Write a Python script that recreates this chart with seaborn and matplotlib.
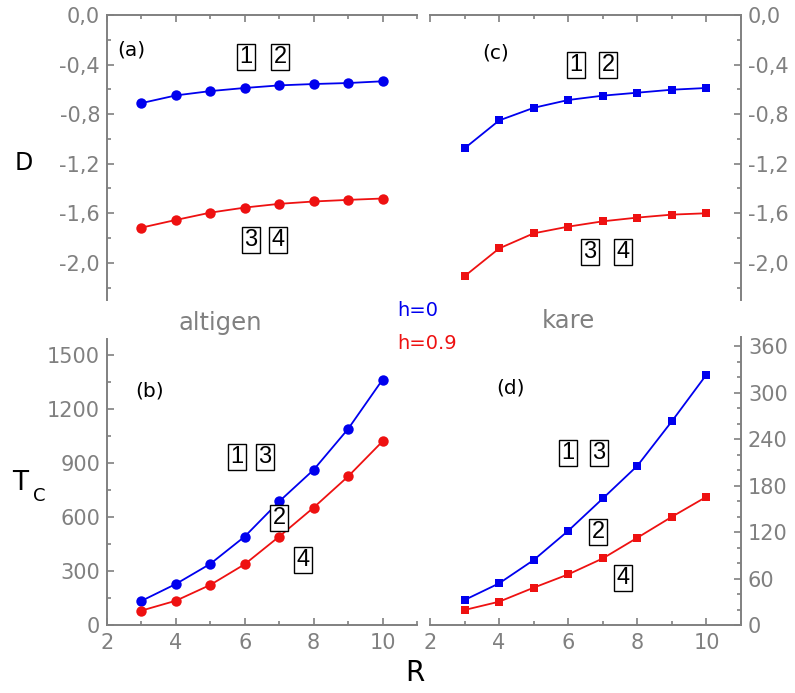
import numpy as np
import pandas as pd
import matplotlib
matplotlib.use("Agg")
import matplotlib.pyplot as plt
from matplotlib.ticker import MultipleLocator, FuncFormatter
import seaborn as sns

# ---- data -------------------------------------------------------------
R = [3, 4, 5, 6, 7, 8, 9, 10]

# D versus R, hexagonal lattice (altigen)
D_hex_h0 = [-0.711, -0.649, -0.614, -0.589, -0.568, -0.557, -0.549, -0.535]
D_hex_h09 = [-1.716, -1.654, -1.595, -1.554, -1.524, -1.505, -1.492, -1.481]

# D versus R, square lattice (kare)
D_sq_h0 = [-1.076, -0.851, -0.749, -0.686, -0.651, -0.627, -0.603, -0.589]
D_sq_h09 = [-2.108, -1.884, -1.762, -1.708, -1.665, -1.635, -1.611, -1.600]

# Tc versus R, hexagonal lattice
Tc_hex_h0 = [134, 228, 340, 492, 687, 863, 1090, 1364]
Tc_hex_h09 = [80, 135, 223, 338, 492, 653, 826, 1021]

# Tc versus R, square lattice
Tc_sq_h0 = [32.3, 53.8, 83.9, 121.7, 163.4, 205.6, 263.2, 323.4]
Tc_sq_h09 = [19.4, 30.1, 48.2, 65.4, 86.0, 112.7, 139.8, 165.6]

field_labels = ["h=0", "h=0.9"]
lattice_labels = ["altigen", "kare"]
panel_tags = ["(a)", "(b)", "(c)", "(d)"]

# ---- style ------------------------------------------------------------
sns.set_style("ticks")
plt.rcParams["font.family"] = ["DejaVu Sans"]

BLUE = "#0000ee"
RED = "#ee1111"
GRAY = "#808080"

W, H = 795, 693
fig = plt.figure(figsize=(W / 100, H / 100), dpi=100)


def frac(x, y):
    """pixel position (from top-left) -> figure fraction"""
    return x / W, 1 - y / H


def make_axes(left, top, right, bottom):
    return fig.add_axes([left / W, 1 - bottom / H, (right - left) / W, (bottom - top) / H])


ax_a = make_axes(107, 15, 417, 300)
ax_b = make_axes(107, 339, 417, 625)
ax_c = make_axes(430, 15, 741, 300)
ax_d = make_axes(430, 337, 741, 625)

comma_fmt = FuncFormatter(lambda v, p: f"{v:.1f}".replace(".", ",").replace("\u2212", "-"))
int_fmt = FuncFormatter(lambda v, p: f"{int(round(v))}")


def draw(ax, y0, y1, marker, ms):
    df = pd.DataFrame({"R": R * 2, "v": y0 + y1,
                       "h": [field_labels[0]] * len(R) + [field_labels[1]] * len(R)})
    sns.lineplot(data=df, x="R", y="v", hue="h", palette=[BLUE, RED], marker=marker,
                 markersize=ms, markeredgewidth=0, linewidth=1.3, legend=False, ax=ax)
    ax.set_xlabel("")
    ax.set_ylabel("")
    ax.set_xlim(2, 11)
    ax.xaxis.set_major_locator(MultipleLocator(2))
    ax.xaxis.set_minor_locator(MultipleLocator(1))
    for s in ax.spines.values():
        s.set_color(GRAY)
        s.set_linewidth(1.4)
    ax.tick_params(which="both", direction="in", color=GRAY, width=1.2,
                   labelcolor=GRAY, labelsize=15)
    ax.tick_params(which="major", length=5)
    ax.tick_params(which="minor", length=3)
    ax.tick_params(axis="y", which="both", pad=5)
    ax.tick_params(axis="x", which="both", pad=6)
    ax.set_facecolor("white")


draw(ax_a, D_hex_h0, D_hex_h09, "o", 7.5)
draw(ax_b, Tc_hex_h0, Tc_hex_h09, "o", 7.5)
draw(ax_c, D_sq_h0, D_sq_h09, "s", 6)
draw(ax_d, Tc_sq_h0, Tc_sq_h09, "s", 6)

# D panels
for ax in (ax_a, ax_c):
    ax.set_ylim(-2.3, 0.0)
    ax.yaxis.set_major_locator(MultipleLocator(0.4))
    ax.yaxis.set_minor_locator(MultipleLocator(0.2))
    ax.yaxis.set_major_formatter(comma_fmt)
    ax.xaxis.tick_top()
    ax.tick_params(axis="x", which="both", labeltop=False, labelbottom=False)
    ax.spines["bottom"].set_visible(False)

ax_a.spines["right"].set_visible(False)
ax_c.spines["left"].set_visible(False)
ax_c.yaxis.tick_right()
ax_c.yaxis.set_label_position("right")

# Tc panels
ax_b.set_ylim(0, 1590)
ax_b.yaxis.set_major_locator(MultipleLocator(300))
ax_b.yaxis.set_minor_locator(MultipleLocator(150))
ax_d.set_ylim(0, 372)
ax_d.yaxis.set_major_locator(MultipleLocator(60))
ax_d.yaxis.set_minor_locator(MultipleLocator(20))
for ax in (ax_b, ax_d):
    ax.yaxis.set_major_formatter(int_fmt)
    ax.xaxis.set_major_formatter(int_fmt)
    ax.spines["top"].set_visible(False)
ax_b.spines["right"].set_visible(False)
ax_d.spines["left"].set_visible(False)
ax_d.yaxis.tick_right()

# ---- axis titles and annotations ---------------------------------------
fig.text(*frac(24, 163), "D", fontsize=17, ha="center", va="center", color="black")
fig.text(*frac(20, 483), "T", fontsize=19, ha="center", va="center", color="black")
fig.text(*frac(39, 496), "C", fontsize=13, ha="center", va="center", color="black")
fig.text(*frac(415, 673), "R", fontsize=20, ha="center", va="center", color="black")

fig.text(*frac(220, 323), lattice_labels[0], fontsize=17.5, ha="center", va="center", color=GRAY)
fig.text(*frac(568, 321), lattice_labels[1], fontsize=17.5, ha="center", va="center", color=GRAY)
fig.text(*frac(397, 311), field_labels[0], fontsize=14, ha="left", va="center", color=BLUE)
fig.text(*frac(397, 343), field_labels[1], fontsize=14, ha="left", va="center", color=RED)

for tag, (x, y) in zip(panel_tags, [(131, 50), (150, 391), (496, 53), (510, 388)]):
    fig.text(*frac(x, y), tag, fontsize=14.5, ha="center", va="center", color="black")

box = dict(boxstyle="square,pad=0.1", fc="white", ec="black", lw=1.0)
boxed = [
    ("1", 246, 57), ("2", 280, 57), ("3", 251, 240), ("4", 278, 240),
    ("1", 576, 65), ("2", 608, 65), ("3", 590, 252), ("4", 623, 252),
    ("1", 237, 457), ("3", 265, 457), ("2", 279, 518), ("4", 303, 560),
    ("1", 568, 453), ("3", 599, 453), ("2", 598, 532), ("4", 623, 578),
]
for s, x, y in boxed:
    fig.text(*frac(x, y), s, fontsize=17, family="Liberation Sans", ha="center",
             va="center", color="black", bbox=box)

fig.savefig("out.png", dpi=100, facecolor="white")
